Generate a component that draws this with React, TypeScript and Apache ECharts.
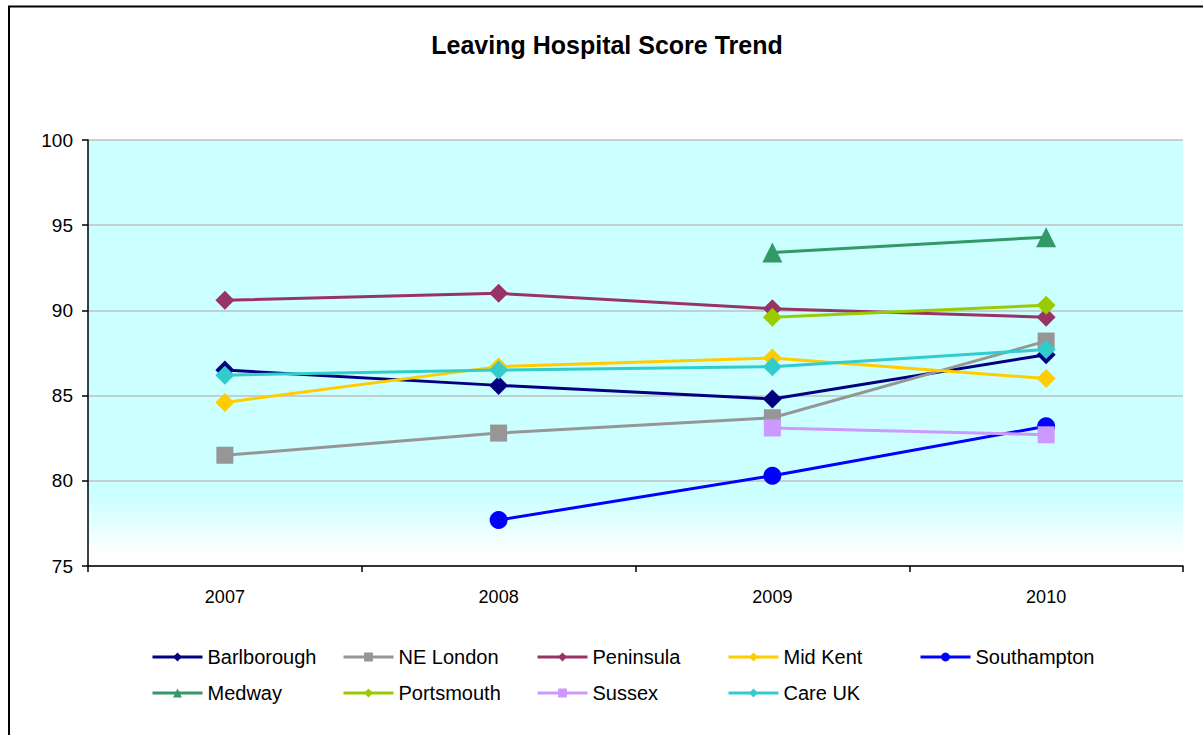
import React, { useEffect, useRef } from "react";
import * as echarts from "echarts";

const years = ["2007", "2008", "2009", "2010"];
const barlborough = [86.5, 85.6, 84.8, 87.4];
const neLondon = [81.5, 82.8, 83.7, 88.2];
const peninsula = [90.6, 91.0, 90.1, 89.6];
const midKent = [84.6, 86.7, 87.2, 86.0];
const southampton = [null, 77.7, 80.3, 83.2];
const medway = [null, null, 93.4, 94.3];
const portsmouth = [null, null, 89.6, 90.3];
const sussex = [null, null, 83.1, 82.7];
const careUK = [86.2, 86.5, 86.7, 87.7];
const yTicks = { min: 75, max: 100, interval: 5 };

const FONT = "Liberation Sans, Arial, sans-serif";

export default function App() {
  const ref = useRef<HTMLDivElement>(null);
  useEffect(() => {
    if (!ref.current) return;
    const chart = echarts.init(ref.current, undefined, { renderer: "svg" });
    const mk = (name: string, data: any[], color: string, symbol: string, size: number) => ({
      name,
      type: "line",
      data,
      symbol,
      symbolSize: size,
      connectNulls: false,
      lineStyle: { color, width: 3 },
      itemStyle: { color, borderWidth: 0 },
      emphasis: { disabled: true },
    });
    const series = [
      mk("Barlborough", barlborough, "#000080", "diamond", 19),
      mk("NE London", neLondon, "#969696", "rect", 17),
      mk("Peninsula", peninsula, "#993366", "diamond", 19),
      mk("Mid Kent", midKent, "#FFCC00", "diamond", 19),
      mk("Southampton", southampton, "#0000FF", "circle", 18),
      mk("Medway", medway, "#339966", "triangle", 20),
      mk("Portsmouth", portsmouth, "#99CC00", "diamond", 19),
      mk("Sussex", sussex, "#CC99FF", "rect", 17),
      mk("Care UK", careUK, "#33CCCC", "diamond", 19),
    ];
    const legendPos: [string, number, number][] = [
      ["Barlborough", 151, 647],
      ["NE London", 342, 647],
      ["Peninsula", 536, 647],
      ["Mid Kent", 727, 647],
      ["Southampton", 919, 647],
      ["Medway", 151, 683],
      ["Portsmouth", 342, 683],
      ["Sussex", 536, 683],
      ["Care UK", 727, 683],
    ];
    const legends = legendPos.map(([name, x, y]) => ({
      data: [name],
      left: x,
      top: y,
      padding: 0,
      itemWidth: 50,
      itemHeight: 11,
      itemGap: 0,
      selectedMode: false,
      lineStyle: { width: 3 },
      textStyle: { fontFamily: FONT, fontSize: 20, color: "#000", lineHeight: 20 },
    }));
    chart.setOption({
      animation: false,
      backgroundColor: "#fff",
      title: {
        text: "Leaving Hospital Score Trend",
        left: 607,
        textAlign: "center",
        top: 32,
        padding: 0,
        textStyle: { fontFamily: FONT, fontSize: 25, fontWeight: "bold", color: "#000" },
      },
      legend: legends,
      grid: {
        left: 88,
        top: 140,
        width: 1095,
        height: 426,
        show: true,
        borderWidth: 0,
        backgroundColor: {
          type: "linear",
          x: 0,
          y: 0,
          x2: 0,
          y2: 1,
          colorStops: [
            { offset: 0, color: "#CCFFFF" },
            { offset: 0.84, color: "#CCFFFF" },
            { offset: 0.97, color: "#FFFFFF" },
            { offset: 1, color: "#FFFFFF" },
          ],
        },
      },
      xAxis: {
        type: "category",
        data: years,
        boundaryGap: true,
        axisLine: { lineStyle: { color: "#000", width: 1.5 } },
        axisTick: { show: true, interval: 0, length: 6, lineStyle: { color: "#000", width: 1.5 } },
        axisLabel: { fontFamily: FONT, fontSize: 18, color: "#000", margin: 22 },
        splitLine: { show: false },
      },
      yAxis: {
        type: "value",
        min: yTicks.min,
        max: yTicks.max,
        interval: yTicks.interval,
        axisLine: { show: true, lineStyle: { color: "#000", width: 1.5 } },
        axisTick: { show: true, length: 6, lineStyle: { color: "#000", width: 1.5 } },
        axisLabel: { fontFamily: FONT, fontSize: 19, color: "#000", margin: 15 },
        splitLine: { show: true, lineStyle: { color: "#C0C0C0", width: 1.5 } },
      },
      graphic: [
        {
          type: "rect",
          shape: { x: 9, y: 6.5, width: 1400, height: 900 },
          style: { fill: "none", stroke: "#000", lineWidth: 2 },
          silent: true,
          z: 100,
        },
      ],
      series,
    });
    return () => chart.dispose();
  }, []);
  return (
    <div
      ref={ref}
      style={{ position: "absolute", left: 0, top: 0, width: 1203, height: 735 }}
    />
  );
}
